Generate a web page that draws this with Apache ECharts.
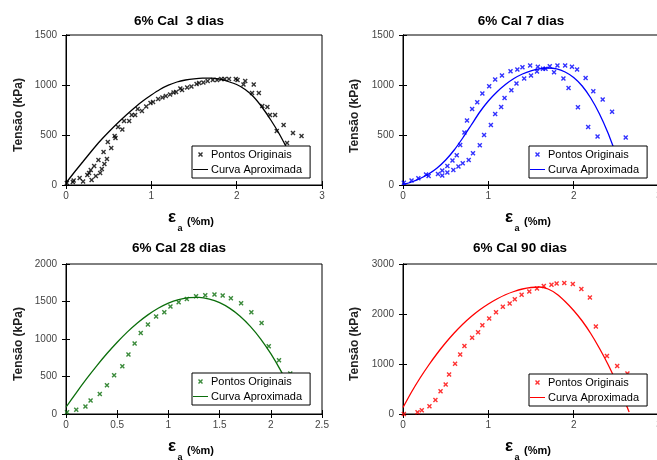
<!DOCTYPE html>
<html><head><meta charset="utf-8">
<script src="https://cdn.jsdelivr.net/npm/echarts@6/dist/echarts.min.js"></script>
<style>html,body{margin:0;padding:0;background:#fff}#c{width:657px;height:460px}</style>
</head><body><div id="c"></div>
<script>
// ---------- data ----------
const titles = ['6% Cal  3 dias', '6% Cal 7 dias', '6% Cal 28 dias', '6% Cal 90 dias'];
const legendNames = ['Pontos Originais', 'Curva Aproximada'];
const yName = 'Tensão (kPa)';
const xName = ['ε', 'a', '(%m)'];

const xMax = [3, 3, 2.5, 3];
const xStep = [1, 1, 0.5, 1];
const yMax = [1500, 1500, 2000, 3000];
const yStep = [500, 500, 500, 1000];

// 3 dias - pontos originais
const p1x = [0.01,0.08,0.09,0.16,0.2,0.25,0.27,0.29,0.3,0.33,0.35,0.38,0.4,0.42,0.44,0.45,0.48,0.49,0.53,0.57,0.58,0.61,0.66,0.68,0.74,0.77,0.81,0.84,0.89,0.94,0.99,1.02,1.08,1.13,1.17,1.22,1.26,1.29,1.34,1.36,1.42,1.47,1.53,1.56,1.61,1.66,1.72,1.77,1.82,1.86,1.91,1.99,2.01,2.08,2.1,2.18,2.2,2.26,2.3,2.36,2.39,2.45,2.47,2.55,2.59,2.66,2.76];
const p1y = [20,30,45,70,35,100,120,150,50,190,90,250,120,160,330,210,260,430,370,490,470,580,555,640,640,700,700,760,740,785,820,830,860,875,890,905,925,930,965,950,975,985,1010,1020,1025,1040,1050,1050,1060,1060,1060,1060,1050,1005,1040,920,1005,920,790,780,700,700,540,600,420,520,490];
// 3 dias - curva aproximada
const c1x = [0,0.1,0.2,0.3,0.4,0.5,0.6,0.7,0.8,0.9,1.0,1.1,1.2,1.3,1.4,1.5,1.6,1.7,1.8,1.9,2.0,2.1,2.2,2.3,2.4,2.5,2.6];
const c1y = [20,130,235,340,440,530,615,695,770,840,900,955,998,1030,1050,1062,1068,1068,1058,1035,1005,955,880,775,650,510,350];

// 7 dias
const p2x = [0.01,0.1,0.18,0.27,0.3,0.41,0.46,0.46,0.52,0.52,0.58,0.59,0.63,0.65,0.67,0.7,0.72,0.75,0.77,0.81,0.82,0.87,0.9,0.93,0.95,1.01,1.03,1.08,1.08,1.15,1.16,1.19,1.26,1.27,1.33,1.34,1.4,1.42,1.49,1.5,1.57,1.58,1.64,1.67,1.72,1.77,1.81,1.88,1.9,1.94,1.98,2.04,2.05,2.14,2.17,2.23,2.28,2.34,2.45,2.61];
const p2y = [23,45,67,104,90,110,144,94,190,124,244,150,298,184,400,218,525,646,250,760,318,827,398,914,499,988,599,1055,710,780,1095,870,1138,947,1014,1155,1178,1065,1195,1095,1135,1182,1162,1162,1188,1128,1195,1065,1195,971,1182,1155,777,1071,579,937,485,854,733,475];
const c2x = [0,0.1,0.2,0.3,0.4,0.5,0.6,0.7,0.8,0.9,1.0,1.1,1.2,1.3,1.4,1.5,1.6,1.7,1.8,1.9,2.0,2.1,2.2,2.3,2.4,2.5];
const c2y = [5,30,65,110,170,250,350,470,600,730,840,930,1005,1065,1110,1142,1162,1170,1162,1130,1075,990,870,715,525,300];

// 28 dias
const p3x = [0.01,0.1,0.19,0.24,0.33,0.4,0.47,0.55,0.61,0.67,0.73,0.8,0.88,0.96,1.02,1.1,1.18,1.27,1.36,1.45,1.53,1.61,1.71,1.81,1.91,1.98,2.08,2.19];
const p3y = [22,57,100,180,268,385,518,637,792,940,1080,1195,1300,1358,1434,1491,1535,1570,1584,1593,1580,1544,1478,1358,1212,903,717,540];
const c3x = [0,0.1,0.2,0.3,0.4,0.5,0.6,0.7,0.8,0.9,1.0,1.1,1.2,1.3,1.4,1.5,1.6,1.7,1.8,1.9,2.0,2.1,2.2];
const c3y = [90,283,468,642,806,957,1095,1217,1322,1410,1479,1526,1552,1554,1532,1484,1408,1304,1169,1003,804,571,303];

// 90 dias
const p4x = [0.01,0.17,0.22,0.31,0.38,0.44,0.5,0.54,0.61,0.67,0.72,0.81,0.88,0.93,1.01,1.09,1.17,1.25,1.31,1.39,1.48,1.57,1.65,1.74,1.8,1.89,1.99,2.09,2.19,2.26,2.39,2.51,2.63];
const p4y = [0,33,74,154,281,455,590,790,1005,1192,1360,1527,1634,1775,1909,2036,2143,2210,2297,2384,2451,2512,2558,2585,2612,2619,2599,2498,2331,1748,1159,958,810];
const c4x = [0,0.1,0.2,0.3,0.4,0.5,0.6,0.7,0.8,0.9,1.0,1.1,1.2,1.3,1.4,1.5,1.6,1.7,1.8,1.9,2.0,2.1,2.2,2.3,2.4,2.5,2.6,2.65];
const c4y = [130,440,720,975,1210,1425,1620,1795,1950,2085,2200,2300,2385,2450,2500,2530,2540,2500,2400,2250,2070,1860,1610,1320,1000,640,250,40];

// ---------- layout / style ----------
const PX = [p1x, p2x, p3x, p4x], PY = [p1y, p2y, p3y, p4y];
const CX = [c1x, c2x, c3x, c4x], CY = [c1y, c2y, c3y, c4y];
const colors = ['#000000', '#0000ff', '#0b6e0b', '#ff0000'];
const FONT = '"Liberation Sans", Arial, sans-serif';
const gridPos = [[66, 35], [403, 35], [66, 264], [403, 264]];
const GW = 256, GH = 150;
const legendPos = [[192, 146], [529, 146], [192, 373], [529, 374]];
const titlePos = [[179, 21], [521, 21], [179, 248], [520, 248]];
const yNamePos = [[19, 115], [355, 116], [19, 344], [355, 344]];
const xNameBase = [[172, 217], [509, 217], [172, 446], [509, 446]];
const XSYM = 'path://M0,2L2,0L5,3L8,0L10,2L7,5L10,8L8,10L5,7L2,10L0,8L3,5Z';
const LINEICON = 'path://M0,0H30V2H0Z';

const grid = [], xAxis = [], yAxis = [], series = [], legend = [], graphic = [];
const axLine = {show: true, lineStyle: {color: '#000', width: 1}};
const tick = {show: true, inside: true, length: 4, lineStyle: {color: '#000', width: 1}};
for (let i = 0; i < 4; i++) {
  grid.push({left: gridPos[i][0], top: gridPos[i][1], width: GW, height: GH,
    outerBoundsMode: 'none', containLabel: false,
    show: true, borderColor: '#000', borderWidth: 1, backgroundColor: '#fff'});
  xAxis.push({type: 'value', gridIndex: i, min: 0, max: xMax[i], interval: xStep[i], position: 'bottom',
    splitLine: {show: false}, axisLine: axLine, axisTick: tick,
    axisLabel: {show: true, color: '#444', fontSize: 10, fontFamily: FONT, margin: 6,
      showMinLabel: true, showMaxLabel: true, hideOverlap: false, formatter: v => String(v)}});
  yAxis.push({type: 'value', gridIndex: i, min: 0, max: yMax[i], interval: yStep[i], position: 'left',
    splitLine: {show: false}, axisLine: axLine, axisTick: tick,
    axisLabel: {show: true, color: '#444', fontSize: 10, fontFamily: FONT, margin: 9,
      showMinLabel: true, showMaxLabel: true, formatter: v => String(v)}});
}
for (let i = 0; i < 4; i++) {
  xAxis.push({type: 'value', gridIndex: i, min: 0, max: xMax[i], interval: xStep[i], position: 'top',
    splitLine: {show: false}, axisLine: axLine, axisTick: tick, axisLabel: {show: false}});
  yAxis.push({type: 'value', gridIndex: i, min: 0, max: yMax[i], interval: yStep[i], position: 'right',
    splitLine: {show: false}, axisLine: axLine, axisTick: tick, axisLabel: {show: false}});
}
for (let i = 0; i < 4; i++) {
  series.push({type: 'line', name: 'c' + i, xAxisIndex: i, yAxisIndex: i,
    data: CX[i].map((x, j) => [x, CY[i][j]]), symbol: 'none', showSymbol: false, smooth: 0.2,
    lineStyle: {color: colors[i], width: 1.3}, itemStyle: {color: colors[i]}, z: 2, silent: true});
  series.push({type: 'scatter', name: 'p' + i, xAxisIndex: i, yAxisIndex: i,
    data: PX[i].map((x, j) => [x, PY[i][j]]), symbol: XSYM, symbolSize: 5,
    itemStyle: {color: colors[i]}, z: 3, silent: true});
  legend.push({left: legendPos[i][0], top: legendPos[i][1], orient: 'vertical',
    data: [
      {name: 'p' + i, icon: XSYM, itemStyle: {color: colors[i], borderWidth: 0}},
      {name: 'c' + i, icon: LINEICON, itemStyle: {color: colors[i], borderWidth: 0}}
    ],
    formatter: n => n[0] === 'p' ? legendNames[0] : legendNames[1],
    backgroundColor: '#fff', borderColor: '#000', borderWidth: 1, borderRadius: 0,
    padding: [3, 8, 3, 1], itemGap: 4, itemWidth: 15, itemHeight: 5, selectedMode: false,
    textStyle: {fontSize: 11, color: '#000', fontFamily: FONT, padding: [0, 0, 0, -2]}, z: 10});
  graphic.push({type: 'text', x: titlePos[i][0], y: titlePos[i][1], z: 20,
    style: {text: titles[i], font: 'bold 13.5px ' + FONT, fill: '#000', align: 'center', verticalAlign: 'middle'}});
  graphic.push({type: 'text', x: yNamePos[i][0], y: yNamePos[i][1], rotation: Math.PI / 2, z: 20,
    style: {text: yName, font: 'bold 12px ' + FONT, fill: '#222', align: 'center', verticalAlign: 'middle'}});
  const bx = xNameBase[i][0], by = xNameBase[i][1];
  graphic.push({type: 'text', x: bx, y: by, z: 20,
    style: {text: xName[0], font: 'bold 17px ' + FONT, fill: '#000', align: 'center', verticalAlign: 'middle'}});
  graphic.push({type: 'text', x: bx + 8, y: by + 12, z: 20,
    style: {text: xName[1], font: 'bold 9px ' + FONT, fill: '#000', align: 'center', verticalAlign: 'middle'}});
  graphic.push({type: 'text', x: bx + 15, y: by + 5, z: 20,
    style: {text: xName[2], font: 'bold 11px ' + FONT, fill: '#000', align: 'left', verticalAlign: 'middle'}});
}

const chart = echarts.init(document.getElementById('c'), null, {renderer: 'canvas'});
chart.setOption({animation: false, backgroundColor: '#fff', grid, xAxis, yAxis, series, legend, graphic});
</script></body></html>
